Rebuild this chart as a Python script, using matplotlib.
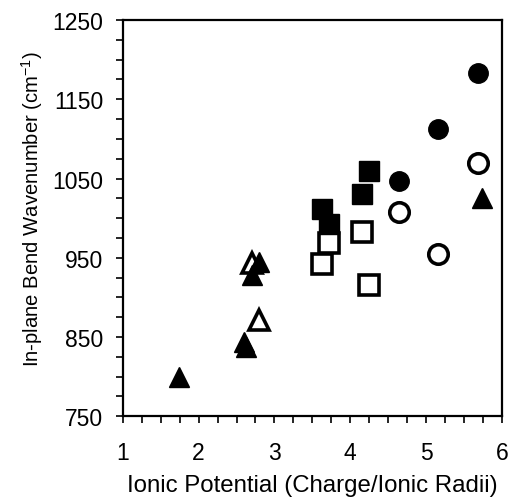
import matplotlib.pyplot as plt
from matplotlib.ticker import MultipleLocator

plt.rcParams['font.family'] = ['Liberation Sans', 'DejaVu Sans']

# filled / open markers by group
tri_fill_x = [1.74, 2.60, 2.62, 2.71, 2.80, 5.74]
tri_fill_y = [800, 844, 837, 928, 944, 1025]
tri_open_x = [2.71, 2.80]
tri_open_y = [943, 872]

sq_fill_x = [3.63, 3.72, 4.15, 4.25]
sq_fill_y = [1012, 993, 1030, 1059]
sq_open_x = [3.63, 3.72, 4.15, 4.25]
sq_open_y = [942, 968, 982, 915]

circ_fill_x = [4.64, 5.16, 5.68]
circ_fill_y = [1047, 1112, 1183]
circ_open_x = [4.64, 5.16, 5.68]
circ_open_y = [1008, 955, 1069]

yticks = [750, 850, 950, 1050, 1150, 1250]

fig = plt.figure(figsize=(5.12, 5.02), dpi=100)
ax = fig.add_axes([0.240, 0.169, 0.740, 0.789])

ms = 14
ew = 2.6
ax.plot(sq_open_x, sq_open_y, 's', ms=ms, mfc='white', mec='black', mew=ew, ls='none')
ax.plot(sq_fill_x, sq_fill_y, 's', ms=ms, color='black', ls='none')
ax.plot(circ_open_x, circ_open_y, 'o', ms=ms, mfc='white', mec='black', mew=ew, ls='none')
ax.plot(circ_fill_x, circ_fill_y, 'o', ms=ms, color='black', ls='none')
ax.plot(tri_open_x, tri_open_y, '^', ms=ms + 1, mfc='white', mec='black', mew=ew, ls='none')
ax.plot(tri_fill_x, tri_fill_y, '^', ms=ms + 1, color='black', ls='none')

ax.set_xlim(1, 6)
ax.set_ylim(750, 1250)
ax.xaxis.set_major_locator(MultipleLocator(1))
ax.xaxis.set_minor_locator(MultipleLocator(0.25))
ax.set_yticks(yticks)
ax.yaxis.set_minor_locator(MultipleLocator(25))
ax.tick_params(which='both', direction='out', length=5, width=1.2, top=False, right=False)
ax.tick_params(axis='y', labelsize=16.5, pad=9)
ax.tick_params(axis='x', labelsize=16.5, pad=13)
for s in ax.spines.values():
    s.set_linewidth(1.6)

ax.set_xlabel('Ionic Potential (Charge/Ionic Radii)', fontsize=17.3, labelpad=7)
ax.set_ylabel('In-plane Bend Wavenumber (cm$^{\\mathregular{-1}}$)', fontsize=14.6)
ax.yaxis.set_label_coords(-0.205, 0.525)

fig.savefig('out.png', dpi=100)
